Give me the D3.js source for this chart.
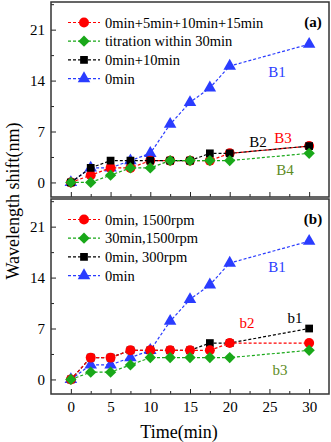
<!DOCTYPE html>
<html>
<head>
<meta charset="utf-8">
<script src="https://cdn.jsdelivr.net/npm/d3@7"></script>
<style>
  body { margin: 0; background: #fff; }
  text { font-family: "Liberation Serif", "Times New Roman", serif; font-weight: normal; }
</style>
</head>
<body>
<div id="chart"></div>
<script>
// data
const times = [0, 2.5, 5, 7.5, 10, 12.5, 15, 17.5, 20, 30];
const xTicks = [0, 5, 10, 15, 20, 25, 30];
const yTicks = [0, 7, 14, 21];

// panel (a)
const aNames = ["0min+5min+10min+15min", "titration within 30min", "0min+10min", "0min"];
const aRed   = [0, 1, 2, 2, 3, 3, 3, 3, 4, 5];
const aGreen = [0, 0, 1, 2, 2, 3, 3, 3, 3, 4];
const aBlack = [0, 2, 3, 3, 3, 3, 3, 4, 4, 5];
const aBlue  = [0, 2, 2, 3, 4, 8, 11, 13, 16, 19];

// panel (b)
const bNames = ["0min, 1500rpm", "30min,1500rpm", "0min, 300rpm", "0min"];
const bRed   = [0, 3, 3, 4, 4, 4, 4, 4, 5, 5];
const bGreen = [0, 1, 1, 2, 3, 3, 3, 3, 3, 4];
const bBlack = [0, 3, 3, 4, 4, 4, 4, 5, 5, 7];
const bBlue  = [0, 2, 2, 3, 4, 8, 11, 13, 16, 19];

const colors = {red: "#ff0000", green: "#19a819", black: "#000000", blue: "#2a3cff"};
const labelGreen = "#5e8c1e";

const W = 331, H = 442;
const left = 51, right = 329;

const svg = d3.select("#chart").append("svg")
    .attr("width", W).attr("height", H);

const x = d3.scaleLinear().domain([-2.5, 32.5]).range([left, right]);

// green diamond = square turned 45deg
const symbols = {
  red: d3.symbol().type(d3.symbolCircle).size(78),
  green: d3.symbol().type(d3.symbolSquare).size(64),
  black: d3.symbol().type(d3.symbolSquare).size(60),
  blue: d3.symbol().type(d3.symbolTriangle).size(68)
};
const turn = key => key === "green" ? " rotate(45)" : "";

function drawPanel(top, bottom, series, drawOrder, names, legendKeys, tag, labels, showXLabels) {
  const y = d3.scaleLinear().domain([-2, 24.8]).range([bottom, top]);
  const g = svg.append("g");

  // axes, ticks pointing in
  g.append("g")
      .attr("transform", `translate(0,${bottom})`)
      .call(d3.axisBottom(x).tickValues(xTicks).tickSize(-5).tickPadding(7)
        .tickFormat(showXLabels ? d3.format("d") : ""));
  g.append("g")
      .attr("transform", `translate(0,${bottom})`)
      .call(d3.axisBottom(x).tickValues([2.5, 7.5, 12.5, 17.5, 22.5, 27.5]).tickSize(-3).tickFormat(""));
  g.append("g")
      .attr("transform", `translate(${left},0)`)
      .call(d3.axisLeft(y).tickValues(yTicks).tickSize(-5).tickPadding(6));
  g.append("g")
      .attr("transform", `translate(${left},0)`)
      .call(d3.axisLeft(y).tickValues([3.5, 10.5, 17.5, 24.5]).tickSize(-3).tickFormat(""));
  g.selectAll(".domain").remove();
  g.selectAll(".tick line").attr("stroke", "#222").attr("stroke-width", 1);
  g.selectAll(".tick text").style("font-size", "15px").attr("fill", "#000");

  // frame
  g.append("rect")
      .attr("x", left).attr("y", top)
      .attr("width", right - left).attr("height", bottom - top)
      .attr("fill", "none").attr("stroke", "#333").attr("stroke-width", 1.5);

  const line = d3.line()
      .x((d, i) => x(times[i]))
      .y(d => y(d));

  drawOrder.forEach(key => {
    const vals = series[key];
    g.append("path")
        .datum(vals)
        .attr("d", line)
        .attr("fill", "none")
        .attr("stroke", colors[key])
        .attr("stroke-width", 1.2)
        .attr("stroke-dasharray", "3,2");
    g.selectAll(null)
        .data(vals)
        .join("path")
        .attr("transform", (d, i) => `translate(${x(times[i])},${y(d)})` + turn(key))
        .attr("d", symbols[key])
        .attr("fill", colors[key]);
  });

  // legend
  legendKeys.forEach((key, i) => {
    const ly = top + 20.5 + i * 18.7;
    g.append("line")
        .attr("x1", 68).attr("x2", 100).attr("y1", ly).attr("y2", ly)
        .attr("stroke", colors[key]).attr("stroke-width", 1.2)
        .attr("stroke-dasharray", "3,2");
    g.append("path")
        .attr("transform", `translate(84,${ly})` + turn(key))
        .attr("d", symbols[key])
        .attr("fill", colors[key]);
    g.append("text")
        .attr("x", 105).attr("y", ly)
        .attr("dy", "0.35em")
        .style("font-size", "14.5px")
        .text(names[i]);
  });

  // panel tag
  g.append("text")
      .attr("x", 313).attr("y", top + 20)
      .attr("dy", "0.35em")
      .attr("text-anchor", "middle")
      .style("font-size", "15px")
      .style("font-weight", "bold")
      .text(tag);

  // curve labels
  labels.forEach(l => {
    g.append("text")
        .attr("x", l.x).attr("y", l.y)
        .attr("dy", "0.35em")
        .attr("text-anchor", "middle")
        .style("font-size", "15px")
        .attr("fill", l.c)
        .text(l.t);
  });
  return y;
}

drawPanel(2, 197,
  {red: aRed, green: aGreen, black: aBlack, blue: aBlue},
  ["blue", "red", "black", "green"],
  aNames, ["red", "green", "black", "blue"], "(a)",
  [{t: "B1", x: 277, y: 72, c: colors.blue},
   {t: "B2", x: 258, y: 142, c: "#000"},
   {t: "B3", x: 283, y: 138, c: colors.red},
   {t: "B4", x: 285, y: 170, c: labelGreen}],
  false);

drawPanel(199, 394,
  {red: bRed, green: bGreen, black: bBlack, blue: bBlue},
  ["blue", "black", "red", "green"],
  bNames, ["red", "green", "black", "blue"], "(b)",
  [{t: "B1", x: 277, y: 267, c: colors.blue},
   {t: "b1", x: 295, y: 318, c: "#000"},
   {t: "b2", x: 247, y: 323, c: colors.red},
   {t: "b3", x: 280, y: 370, c: labelGreen}],
  true);

// axis titles
svg.append("text")
    .attr("x", 179).attr("y", 432)
    .attr("dy", "0.35em")
    .attr("text-anchor", "middle")
    .style("font-size", "18px")
    .text("Time(min)");

svg.append("text")
    .attr("transform", "translate(13,201) rotate(-90)")
    .attr("dy", "0.35em")
    .attr("text-anchor", "middle")
    .style("font-size", "18px")
    .text("Wavelength shift(nm)");
</script>
</body>
</html>
